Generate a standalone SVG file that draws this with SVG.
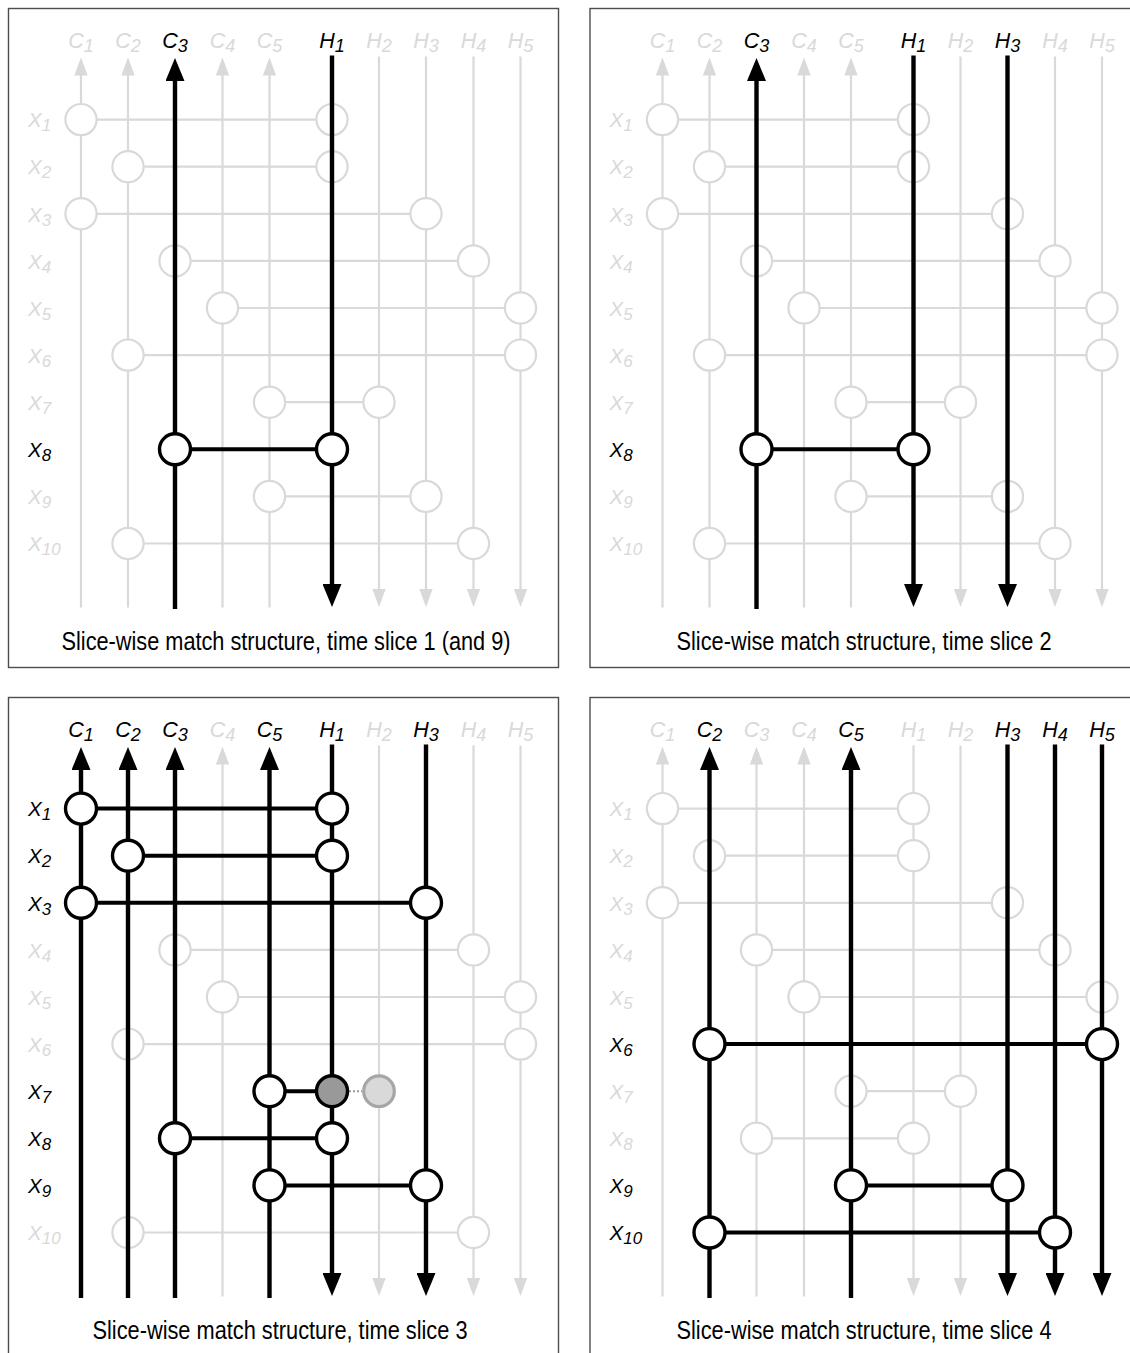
<svg xmlns="http://www.w3.org/2000/svg" width="1130" height="1353" viewBox="0 0 1130 1353">
<style>
.frame{fill:#fff;stroke:#4d4d4d;stroke-width:1.4}
.lv{stroke:#d9d9d9;stroke-width:2.2;fill:none}
.bv{stroke:#000;stroke-width:4.4;fill:none}
.lh{stroke:#d9d9d9;stroke-width:2.2;fill:none}
.bh{stroke:#000;stroke-width:4;fill:none}
.lc{fill:#fff;stroke:#d9d9d9;stroke-width:2.2}
.bc{fill:#fff;stroke:#000;stroke-width:3.4}
.lab{font-family:"Liberation Sans Narrow","Liberation Sans",Arial,sans-serif;font-style:italic}
.col{font-size:21.5px;text-anchor:middle}
.col tspan{font-size:18px}
.row{font-size:20.5px}
.row tspan{font-size:17px}
.lt{fill:#d9d9d9}
.bt{fill:#000}
.cap{font-family:"Liberation Sans Narrow","Liberation Sans",Arial,sans-serif;font-size:25px;text-anchor:middle;fill:#000}
.up{marker-end:url(#al)}
.dn{marker-end:url(#al)}
.bup{marker-end:url(#ab)}
.bdn{marker-end:url(#ab)}
</style>
<defs>
<marker id="ab" markerUnits="userSpaceOnUse" markerWidth="23" markerHeight="19" refX="1" refY="9.5" orient="auto"><path d="M0,0 L23,9.5 L0,19 Z" fill="#000"/></marker>
<marker id="al" markerUnits="userSpaceOnUse" markerWidth="18" markerHeight="13.4" refX="1" refY="6.7" orient="auto"><path d="M0,0 L18,6.7 L0,13.4 Z" fill="#d9d9d9"/></marker>
</defs>
<rect width="1130" height="1353" fill="#fff"/>

<!-- ===== Panel 1 ===== -->
<g id="panel1">
<rect class="frame" x="8.5" y="8.5" width="550" height="659"/>
<g id="panel1-connectors">
<line class="lv up" x1="81" y1="607.5" x2="81" y2="74.5"/>
<line class="lv up" x1="128" y1="607.5" x2="128" y2="74.5"/>
<line class="lv up" x1="222.5" y1="607.5" x2="222.5" y2="74.5"/>
<line class="lv up" x1="269.5" y1="607.5" x2="269.5" y2="74.5"/>
<line class="lv dn" x1="379" y1="56.5" x2="379" y2="590"/>
<line class="lv dn" x1="426" y1="56.5" x2="426" y2="590"/>
<line class="lv dn" x1="473.5" y1="56.5" x2="473.5" y2="590"/>
<line class="lv dn" x1="520.5" y1="56.5" x2="520.5" y2="590"/>
<line class="lh" x1="81" y1="119.6" x2="332" y2="119.6"/>
<line class="lh" x1="128" y1="166.7" x2="332" y2="166.7"/>
<line class="lh" x1="81" y1="213.8" x2="426" y2="213.8"/>
<line class="lh" x1="175" y1="260.9" x2="473.5" y2="260.9"/>
<line class="lh" x1="222.5" y1="308" x2="520.5" y2="308"/>
<line class="lh" x1="128" y1="355.1" x2="520.5" y2="355.1"/>
<line class="lh" x1="269.5" y1="402.2" x2="379" y2="402.2"/>
<line class="lh" x1="269.5" y1="496.4" x2="426" y2="496.4"/>
<line class="lh" x1="128" y1="543.5" x2="473.5" y2="543.5"/>
</g>
<g id="panel1-light-nodes">
<circle class="lc" cx="81" cy="119.6" r="15.6"/><circle class="lc" cx="332" cy="119.6" r="15.6"/>
<circle class="lc" cx="128" cy="166.7" r="15.6"/><circle class="lc" cx="332" cy="166.7" r="15.6"/>
<circle class="lc" cx="81" cy="213.8" r="15.6"/><circle class="lc" cx="426" cy="213.8" r="15.6"/>
<circle class="lc" cx="175" cy="260.9" r="15.6"/><circle class="lc" cx="473.5" cy="260.9" r="15.6"/>
<circle class="lc" cx="222.5" cy="308" r="15.6"/><circle class="lc" cx="520.5" cy="308" r="15.6"/>
<circle class="lc" cx="128" cy="355.1" r="15.6"/><circle class="lc" cx="520.5" cy="355.1" r="15.6"/>
<circle class="lc" cx="269.5" cy="402.2" r="15.6"/><circle class="lc" cx="379" cy="402.2" r="15.6"/>
<circle class="lc" cx="269.5" cy="496.4" r="15.6"/><circle class="lc" cx="426" cy="496.4" r="15.6"/>
<circle class="lc" cx="128" cy="543.5" r="15.6"/><circle class="lc" cx="473.5" cy="543.5" r="15.6"/>
</g>
<g id="panel1-active-connectors">
<line class="bv bup" x1="175" y1="609" x2="175" y2="80"/>
<line class="bv bdn" x1="332" y1="55.5" x2="332" y2="585"/>
<line class="bh" x1="175" y1="449.3" x2="332" y2="449.3"/>
</g>
<g id="panel1-active-nodes">
<circle class="bc" cx="175" cy="449.3" r="15.5"/><circle class="bc" cx="332" cy="449.3" r="15.5"/>
</g>
<g id="panel1-labels" class="lab">
<text class="col lt" x="81" y="47.5">C<tspan dy="4.5">1</tspan></text>
<text class="col lt" x="128" y="47.5">C<tspan dy="4.5">2</tspan></text>
<text class="col bt" x="175" y="47.5">C<tspan dy="4.5">3</tspan></text>
<text class="col lt" x="222.5" y="47.5">C<tspan dy="4.5">4</tspan></text>
<text class="col lt" x="269.5" y="47.5">C<tspan dy="4.5">5</tspan></text>
<text class="col bt" x="332" y="47.5">H<tspan dy="4.5">1</tspan></text>
<text class="col lt" x="379" y="47.5">H<tspan dy="4.5">2</tspan></text>
<text class="col lt" x="426" y="47.5">H<tspan dy="4.5">3</tspan></text>
<text class="col lt" x="473.5" y="47.5">H<tspan dy="4.5">4</tspan></text>
<text class="col lt" x="520.5" y="47.5">H<tspan dy="4.5">5</tspan></text>
<text class="row lt" x="28" y="127.3">X<tspan dy="4">1</tspan></text>
<text class="row lt" x="28" y="174.4">X<tspan dy="4">2</tspan></text>
<text class="row lt" x="28" y="221.5">X<tspan dy="4">3</tspan></text>
<text class="row lt" x="28" y="268.6">X<tspan dy="4">4</tspan></text>
<text class="row lt" x="28" y="315.7">X<tspan dy="4">5</tspan></text>
<text class="row lt" x="28" y="362.8">X<tspan dy="4">6</tspan></text>
<text class="row lt" x="28" y="409.9">X<tspan dy="4">7</tspan></text>
<text class="row bt" x="28" y="457">X<tspan dy="4">8</tspan></text>
<text class="row lt" x="28" y="504.1">X<tspan dy="4">9</tspan></text>
<text class="row lt" x="28" y="551.2">X<tspan dy="4">10</tspan></text>
</g>
<text class="cap" x="286" y="650" textLength="449" lengthAdjust="spacingAndGlyphs">Slice-wise match structure, time slice 1 (and 9)</text>
</g>

<!-- ===== Panel 2 ===== -->
<g id="panel2" transform="translate(581.5,0)">
<rect class="frame" x="8.5" y="8.5" width="550" height="659"/>
<g id="panel2-connectors">
<line class="lv up" x1="81" y1="607.5" x2="81" y2="74.5"/>
<line class="lv up" x1="128" y1="607.5" x2="128" y2="74.5"/>
<line class="lv up" x1="222.5" y1="607.5" x2="222.5" y2="74.5"/>
<line class="lv up" x1="269.5" y1="607.5" x2="269.5" y2="74.5"/>
<line class="lv dn" x1="379" y1="56.5" x2="379" y2="590"/>
<line class="lv dn" x1="473.5" y1="56.5" x2="473.5" y2="590"/>
<line class="lv dn" x1="520.5" y1="56.5" x2="520.5" y2="590"/>
<line class="lh" x1="81" y1="119.6" x2="332" y2="119.6"/>
<line class="lh" x1="128" y1="166.7" x2="332" y2="166.7"/>
<line class="lh" x1="81" y1="213.8" x2="426" y2="213.8"/>
<line class="lh" x1="175" y1="260.9" x2="473.5" y2="260.9"/>
<line class="lh" x1="222.5" y1="308" x2="520.5" y2="308"/>
<line class="lh" x1="128" y1="355.1" x2="520.5" y2="355.1"/>
<line class="lh" x1="269.5" y1="402.2" x2="379" y2="402.2"/>
<line class="lh" x1="269.5" y1="496.4" x2="426" y2="496.4"/>
<line class="lh" x1="128" y1="543.5" x2="473.5" y2="543.5"/>
</g>
<g id="panel2-light-nodes">
<circle class="lc" cx="81" cy="119.6" r="15.6"/><circle class="lc" cx="332" cy="119.6" r="15.6"/>
<circle class="lc" cx="128" cy="166.7" r="15.6"/><circle class="lc" cx="332" cy="166.7" r="15.6"/>
<circle class="lc" cx="81" cy="213.8" r="15.6"/><circle class="lc" cx="426" cy="213.8" r="15.6"/>
<circle class="lc" cx="175" cy="260.9" r="15.6"/><circle class="lc" cx="473.5" cy="260.9" r="15.6"/>
<circle class="lc" cx="222.5" cy="308" r="15.6"/><circle class="lc" cx="520.5" cy="308" r="15.6"/>
<circle class="lc" cx="128" cy="355.1" r="15.6"/><circle class="lc" cx="520.5" cy="355.1" r="15.6"/>
<circle class="lc" cx="269.5" cy="402.2" r="15.6"/><circle class="lc" cx="379" cy="402.2" r="15.6"/>
<circle class="lc" cx="269.5" cy="496.4" r="15.6"/><circle class="lc" cx="426" cy="496.4" r="15.6"/>
<circle class="lc" cx="128" cy="543.5" r="15.6"/><circle class="lc" cx="473.5" cy="543.5" r="15.6"/>
</g>
<g id="panel2-active-connectors">
<line class="bv bup" x1="175" y1="609" x2="175" y2="80"/>
<line class="bv bdn" x1="332" y1="55.5" x2="332" y2="585"/>
<line class="bv bdn" x1="426" y1="55.5" x2="426" y2="585"/>
<line class="bh" x1="175" y1="449.3" x2="332" y2="449.3"/>
</g>
<g id="panel2-active-nodes">
<circle class="bc" cx="175" cy="449.3" r="15.5"/><circle class="bc" cx="332" cy="449.3" r="15.5"/>
</g>
<g id="panel2-labels" class="lab">
<text class="col lt" x="81" y="47.5">C<tspan dy="4.5">1</tspan></text>
<text class="col lt" x="128" y="47.5">C<tspan dy="4.5">2</tspan></text>
<text class="col bt" x="175" y="47.5">C<tspan dy="4.5">3</tspan></text>
<text class="col lt" x="222.5" y="47.5">C<tspan dy="4.5">4</tspan></text>
<text class="col lt" x="269.5" y="47.5">C<tspan dy="4.5">5</tspan></text>
<text class="col bt" x="332" y="47.5">H<tspan dy="4.5">1</tspan></text>
<text class="col lt" x="379" y="47.5">H<tspan dy="4.5">2</tspan></text>
<text class="col bt" x="426" y="47.5">H<tspan dy="4.5">3</tspan></text>
<text class="col lt" x="473.5" y="47.5">H<tspan dy="4.5">4</tspan></text>
<text class="col lt" x="520.5" y="47.5">H<tspan dy="4.5">5</tspan></text>
<text class="row lt" x="28" y="127.3">X<tspan dy="4">1</tspan></text>
<text class="row lt" x="28" y="174.4">X<tspan dy="4">2</tspan></text>
<text class="row lt" x="28" y="221.5">X<tspan dy="4">3</tspan></text>
<text class="row lt" x="28" y="268.6">X<tspan dy="4">4</tspan></text>
<text class="row lt" x="28" y="315.7">X<tspan dy="4">5</tspan></text>
<text class="row lt" x="28" y="362.8">X<tspan dy="4">6</tspan></text>
<text class="row lt" x="28" y="409.9">X<tspan dy="4">7</tspan></text>
<text class="row bt" x="28" y="457">X<tspan dy="4">8</tspan></text>
<text class="row lt" x="28" y="504.1">X<tspan dy="4">9</tspan></text>
<text class="row lt" x="28" y="551.2">X<tspan dy="4">10</tspan></text>
</g>
<text class="cap" x="282.5" y="650" textLength="375" lengthAdjust="spacingAndGlyphs">Slice-wise match structure, time slice 2</text>
</g>

<!-- ===== Panel 3 ===== -->
<g id="panel3" transform="translate(0,689)">
<rect class="frame" x="8.5" y="8.5" width="550" height="659"/>
<g id="panel3-connectors">
<line class="lv up" x1="222.5" y1="607.5" x2="222.5" y2="74.5"/>
<line class="lv dn" x1="379" y1="56.5" x2="379" y2="590"/>
<line class="lv dn" x1="473.5" y1="56.5" x2="473.5" y2="590"/>
<line class="lv dn" x1="520.5" y1="56.5" x2="520.5" y2="590"/>
<line class="lh" x1="175" y1="260.9" x2="473.5" y2="260.9"/>
<line class="lh" x1="222.5" y1="308" x2="520.5" y2="308"/>
<line class="lh" x1="128" y1="355.1" x2="520.5" y2="355.1"/>
<line class="lh" x1="128" y1="543.5" x2="473.5" y2="543.5"/>
</g>
<g id="panel3-light-nodes">
<circle class="lc" cx="175" cy="260.9" r="15.6"/><circle class="lc" cx="473.5" cy="260.9" r="15.6"/>
<circle class="lc" cx="222.5" cy="308" r="15.6"/><circle class="lc" cx="520.5" cy="308" r="15.6"/>
<circle class="lc" cx="128" cy="355.1" r="15.6"/><circle class="lc" cx="520.5" cy="355.1" r="15.6"/>
<circle class="lc" cx="128" cy="543.5" r="15.6"/><circle class="lc" cx="473.5" cy="543.5" r="15.6"/>
</g>
<g id="panel3-active-connectors">
<line class="bv bup" x1="81" y1="609" x2="81" y2="80"/>
<line class="bv bup" x1="128" y1="609" x2="128" y2="80"/>
<line class="bv bup" x1="175" y1="609" x2="175" y2="80"/>
<line class="bv bup" x1="269.5" y1="609" x2="269.5" y2="80"/>
<line class="bv bdn" x1="332" y1="55.5" x2="332" y2="585"/>
<line class="bv bdn" x1="426" y1="55.5" x2="426" y2="585"/>
<line class="bh" x1="81" y1="119.6" x2="332" y2="119.6"/>
<line class="bh" x1="128" y1="166.7" x2="332" y2="166.7"/>
<line class="bh" x1="81" y1="213.8" x2="426" y2="213.8"/>
<line class="bh" x1="269.5" y1="402.2" x2="332" y2="402.2"/>
<line x1="349" y1="402.2" x2="362" y2="402.2" stroke="#999" stroke-width="2" stroke-dasharray="2 2"/>
<line class="bh" x1="175" y1="449.3" x2="332" y2="449.3"/>
<line class="bh" x1="269.5" y1="496.4" x2="426" y2="496.4"/>
</g>
<g id="panel3-active-nodes">
<circle class="bc" cx="81" cy="119.6" r="15.5"/><circle class="bc" cx="332" cy="119.6" r="15.5"/>
<circle class="bc" cx="128" cy="166.7" r="15.5"/><circle class="bc" cx="332" cy="166.7" r="15.5"/>
<circle class="bc" cx="81" cy="213.8" r="15.5"/><circle class="bc" cx="426" cy="213.8" r="15.5"/>
<circle class="bc" cx="269.5" cy="402.2" r="15.5"/>
<circle id="p3-x7-h1" cx="332" cy="402.2" r="15.5" fill="#999" stroke="#000" stroke-width="3.4"/>
<circle id="p3-x7-h2" cx="379" cy="402.2" r="15.3" fill="#d9d9d9" stroke="#a6a6a6" stroke-width="3.2"/>
<circle class="bc" cx="175" cy="449.3" r="15.5"/><circle class="bc" cx="332" cy="449.3" r="15.5"/>
<circle class="bc" cx="269.5" cy="496.4" r="15.5"/><circle class="bc" cx="426" cy="496.4" r="15.5"/>
</g>
<g id="panel3-labels" class="lab">
<text class="col bt" x="81" y="47.5">C<tspan dy="4.5">1</tspan></text>
<text class="col bt" x="128" y="47.5">C<tspan dy="4.5">2</tspan></text>
<text class="col bt" x="175" y="47.5">C<tspan dy="4.5">3</tspan></text>
<text class="col lt" x="222.5" y="47.5">C<tspan dy="4.5">4</tspan></text>
<text class="col bt" x="269.5" y="47.5">C<tspan dy="4.5">5</tspan></text>
<text class="col bt" x="332" y="47.5">H<tspan dy="4.5">1</tspan></text>
<text class="col lt" x="379" y="47.5">H<tspan dy="4.5">2</tspan></text>
<text class="col bt" x="426" y="47.5">H<tspan dy="4.5">3</tspan></text>
<text class="col lt" x="473.5" y="47.5">H<tspan dy="4.5">4</tspan></text>
<text class="col lt" x="520.5" y="47.5">H<tspan dy="4.5">5</tspan></text>
<text class="row bt" x="28" y="127.3">X<tspan dy="4">1</tspan></text>
<text class="row bt" x="28" y="174.4">X<tspan dy="4">2</tspan></text>
<text class="row bt" x="28" y="221.5">X<tspan dy="4">3</tspan></text>
<text class="row lt" x="28" y="268.6">X<tspan dy="4">4</tspan></text>
<text class="row lt" x="28" y="315.7">X<tspan dy="4">5</tspan></text>
<text class="row lt" x="28" y="362.8">X<tspan dy="4">6</tspan></text>
<text class="row bt" x="28" y="409.9">X<tspan dy="4">7</tspan></text>
<text class="row bt" x="28" y="457">X<tspan dy="4">8</tspan></text>
<text class="row bt" x="28" y="504.1">X<tspan dy="4">9</tspan></text>
<text class="row lt" x="28" y="551.2">X<tspan dy="4">10</tspan></text>
</g>
<text class="cap" x="280" y="650" textLength="375" lengthAdjust="spacingAndGlyphs">Slice-wise match structure, time slice 3</text>
</g>

<!-- ===== Panel 4 ===== -->
<g id="panel4" transform="translate(581.5,689)">
<rect class="frame" x="8.5" y="8.5" width="550" height="659"/>
<g id="panel4-connectors">
<line class="lv up" x1="81" y1="607.5" x2="81" y2="74.5"/>
<line class="lv up" x1="175" y1="607.5" x2="175" y2="74.5"/>
<line class="lv up" x1="222.5" y1="607.5" x2="222.5" y2="74.5"/>
<line class="lv dn" x1="332" y1="56.5" x2="332" y2="590"/>
<line class="lv dn" x1="379" y1="56.5" x2="379" y2="590"/>
<line class="lh" x1="81" y1="119.6" x2="332" y2="119.6"/>
<line class="lh" x1="128" y1="166.7" x2="332" y2="166.7"/>
<line class="lh" x1="81" y1="213.8" x2="426" y2="213.8"/>
<line class="lh" x1="175" y1="260.9" x2="473.5" y2="260.9"/>
<line class="lh" x1="222.5" y1="308" x2="520.5" y2="308"/>
<line class="lh" x1="269.5" y1="402.2" x2="379" y2="402.2"/>
<line class="lh" x1="175" y1="449.3" x2="332" y2="449.3"/>
</g>
<g id="panel4-light-nodes">
<circle class="lc" cx="81" cy="119.6" r="15.6"/><circle class="lc" cx="332" cy="119.6" r="15.6"/>
<circle class="lc" cx="128" cy="166.7" r="15.6"/><circle class="lc" cx="332" cy="166.7" r="15.6"/>
<circle class="lc" cx="81" cy="213.8" r="15.6"/><circle class="lc" cx="426" cy="213.8" r="15.6"/>
<circle class="lc" cx="175" cy="260.9" r="15.6"/><circle class="lc" cx="473.5" cy="260.9" r="15.6"/>
<circle class="lc" cx="222.5" cy="308" r="15.6"/><circle class="lc" cx="520.5" cy="308" r="15.6"/>
<circle class="lc" cx="269.5" cy="402.2" r="15.6"/><circle class="lc" cx="379" cy="402.2" r="15.6"/>
<circle class="lc" cx="175" cy="449.3" r="15.6"/><circle class="lc" cx="332" cy="449.3" r="15.6"/>
</g>
<g id="panel4-active-connectors">
<line class="bv bup" x1="128" y1="609" x2="128" y2="80"/>
<line class="bv bup" x1="269.5" y1="609" x2="269.5" y2="80"/>
<line class="bv bdn" x1="426" y1="55.5" x2="426" y2="585"/>
<line class="bv bdn" x1="473.5" y1="55.5" x2="473.5" y2="585"/>
<line class="bv bdn" x1="520.5" y1="55.5" x2="520.5" y2="585"/>
<line class="bh" x1="128" y1="355.1" x2="520.5" y2="355.1"/>
<line class="bh" x1="269.5" y1="496.4" x2="426" y2="496.4"/>
<line class="bh" x1="128" y1="543.5" x2="473.5" y2="543.5"/>
</g>
<g id="panel4-active-nodes">
<circle class="bc" cx="128" cy="355.1" r="15.5"/><circle class="bc" cx="520.5" cy="355.1" r="15.5"/>
<circle class="bc" cx="269.5" cy="496.4" r="15.5"/><circle class="bc" cx="426" cy="496.4" r="15.5"/>
<circle class="bc" cx="128" cy="543.5" r="15.5"/><circle class="bc" cx="473.5" cy="543.5" r="15.5"/>
</g>
<g id="panel4-labels" class="lab">
<text class="col lt" x="81" y="47.5">C<tspan dy="4.5">1</tspan></text>
<text class="col bt" x="128" y="47.5">C<tspan dy="4.5">2</tspan></text>
<text class="col lt" x="175" y="47.5">C<tspan dy="4.5">3</tspan></text>
<text class="col lt" x="222.5" y="47.5">C<tspan dy="4.5">4</tspan></text>
<text class="col bt" x="269.5" y="47.5">C<tspan dy="4.5">5</tspan></text>
<text class="col lt" x="332" y="47.5">H<tspan dy="4.5">1</tspan></text>
<text class="col lt" x="379" y="47.5">H<tspan dy="4.5">2</tspan></text>
<text class="col bt" x="426" y="47.5">H<tspan dy="4.5">3</tspan></text>
<text class="col bt" x="473.5" y="47.5">H<tspan dy="4.5">4</tspan></text>
<text class="col bt" x="520.5" y="47.5">H<tspan dy="4.5">5</tspan></text>
<text class="row lt" x="28" y="127.3">X<tspan dy="4">1</tspan></text>
<text class="row lt" x="28" y="174.4">X<tspan dy="4">2</tspan></text>
<text class="row lt" x="28" y="221.5">X<tspan dy="4">3</tspan></text>
<text class="row lt" x="28" y="268.6">X<tspan dy="4">4</tspan></text>
<text class="row lt" x="28" y="315.7">X<tspan dy="4">5</tspan></text>
<text class="row bt" x="28" y="362.8">X<tspan dy="4">6</tspan></text>
<text class="row lt" x="28" y="409.9">X<tspan dy="4">7</tspan></text>
<text class="row lt" x="28" y="457">X<tspan dy="4">8</tspan></text>
<text class="row bt" x="28" y="504.1">X<tspan dy="4">9</tspan></text>
<text class="row bt" x="28" y="551.2">X<tspan dy="4">10</tspan></text>
</g>
<text class="cap" x="282.5" y="650" textLength="375" lengthAdjust="spacingAndGlyphs">Slice-wise match structure, time slice 4</text>
</g>
</svg>
